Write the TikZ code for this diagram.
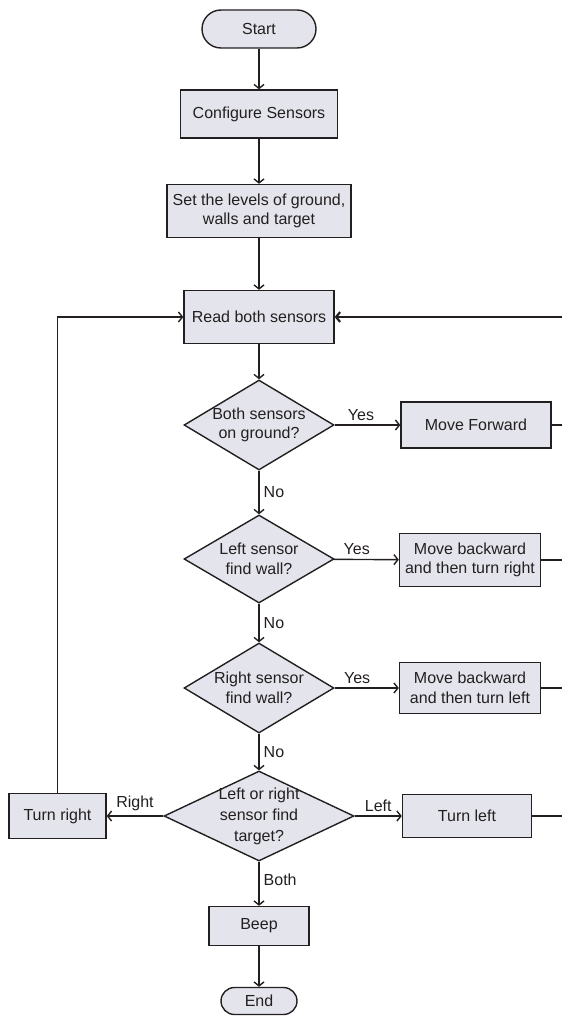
\documentclass[tikz,border=0pt]{standalone}
\usepackage{fontspec}
\setmainfont{Liberation Sans}
\usetikzlibrary{positioning,shapes.geometric,arrows.meta}
\definecolor{boxfill}{RGB}{228,229,236}
\definecolor{ink}{RGB}{35,31,32}

\begin{document}
\begin{tikzpicture}[x=1pt,y=-1pt,color=ink,font=\fontsize{16}{19.5}\selectfont,line width=1.4pt,
    flow/.style={-{Straight Barb[length=4pt,width=10pt]}},
    terminal/.style={draw,fill=boxfill,rounded corners=#1,inner sep=0pt},
    procbox/.style={draw,fill=boxfill,align=center,inner sep=0pt},
    decision/.style={draw,fill=boxfill,diamond,aspect=1.7,align=center,inner sep=-8pt},
    lbl/.style={inner sep=4pt}]
    \useasboundingbox (0,0) rectangle (562,1016);
    % main column
    \node[terminal=19pt,minimum width=114,minimum height=38] (start) at (259,29) {Start};
    \node[procbox,minimum width=157,minimum height=48] (config) at (259,114) {Configure Sensors};
    \node[procbox,minimum width=184,minimum height=53] (levels) at (259,211) {Set the levels of ground,\\walls and target};
    \node[procbox,minimum width=150,minimum height=53] (read) at (259,317) {Read both sensors};
    \node[decision,minimum width=150,minimum height=90] (ground) at (259,425) {Both sensors\\on ground?};
    \node[decision,minimum width=150,minimum height=88] (lwall) at (259,559) {Left sensor\\find wall?};
    \node[decision,minimum width=150,minimum height=90] (rwall) at (259,688) {Right sensor\\find wall?};
    \node[decision,aspect=2.1,minimum width=190,minimum height=90,font=\fontsize{16}{21}\selectfont] (target) at (259,816) {Left or right\\sensor find\\target?};
    \node[procbox,minimum width=100,minimum height=39] (beep) at (259,926) {Beep};
    \node[terminal=13.5pt,minimum width=76,minimum height=27] (stop) at (259,1001) {End};
    % actions
    \node[procbox,minimum width=150,minimum height=46] (fwd) at (476,425) {Move Forward};
    \node[procbox,minimum width=141,minimum height=53] (backr) at (470,560) {Move backward\\and then turn right};
    \node[procbox,minimum width=141,minimum height=51] (backl) at (470,688) {Move backward\\and then turn left};
    \node[procbox,minimum width=129,minimum height=43] (tleft) at (467,816) {Turn left};
    \node[procbox,minimum width=97,minimum height=45] (tright) at (57.5,816) {Turn right};
    \coordinate (rail) at (562,317);

    \draw[flow] (start) -- (config);
    \draw[flow] (config) -- (levels);
    \draw[flow] (levels) -- (read);
    \draw[flow] (read) -- (ground);
    \draw[flow] (ground) -- node[lbl,above,pos=0.4]{Yes} (fwd);
    \draw[flow] (ground) -- node[lbl,right]{No} (lwall);
    \draw[flow] (lwall) -- node[lbl,above,pos=0.35]{Yes} (backr);
    \draw[flow] (lwall) -- node[lbl,right]{No} (rwall);
    \draw[flow] (rwall) -- node[lbl,above,pos=0.35]{Yes} (backl);
    \draw[flow] (rwall) -- node[lbl,right]{No} (target);
    \draw[flow] (target) -- node[lbl,above]{Right} (tright);
    \draw[flow] (target) -- node[lbl,above]{Left} (tleft);
    \draw[flow] (target) -- node[lbl,right,pos=0.4]{Both} (beep);
    \draw[flow] (beep) -- (stop);
    % loop back
    \draw[flow] (tright) |- (read);
    \foreach \n in {fwd,backr,backl,tleft}{%
      \draw (\n) -- (\n -| rail);}
    \draw[flow,line width=2.2pt] (rail) -- (read);
  \end{tikzpicture}
\end{document}
